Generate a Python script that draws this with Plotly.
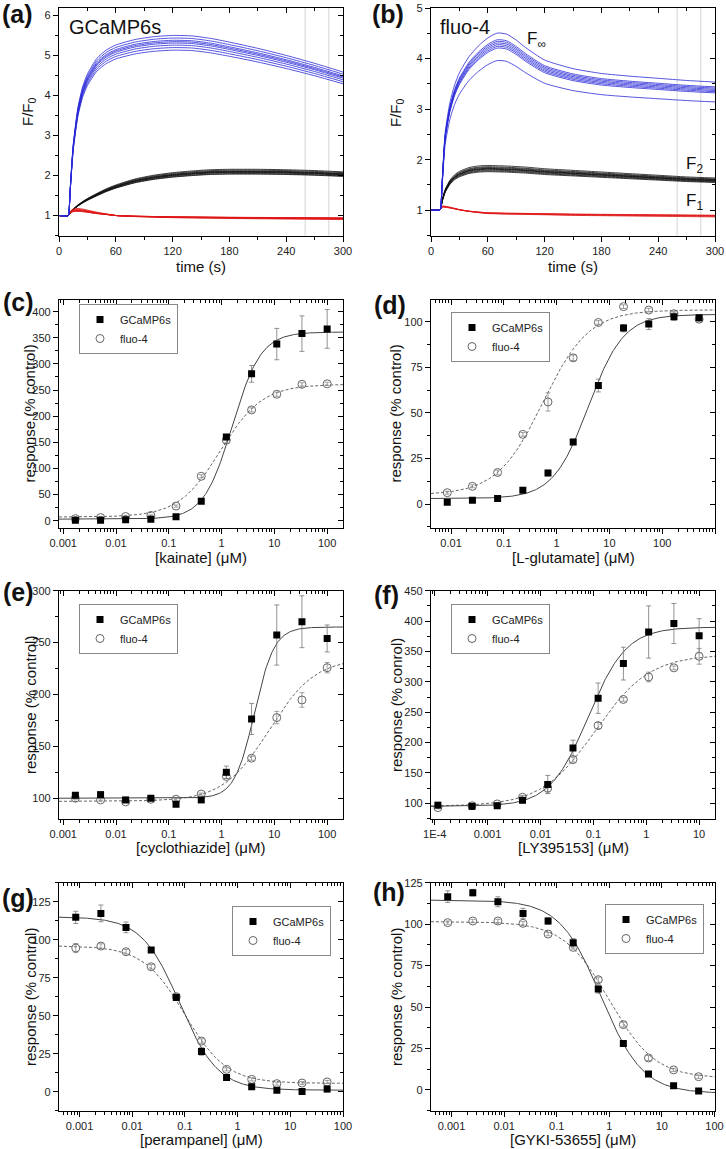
import numpy as np
import plotly.graph_objects as go

W, H = 726, 1149
FONT = "Liberation Sans, Arial, Helvetica, sans-serif"

# ---------------- (a) GCaMP6s time courses (F/F0) ----------------
time_a = [0, 5, 9, 10, 12, 15, 20, 25, 30, 40, 50, 60, 80, 100, 120, 140, 160, 180, 210, 240, 270, 300]
blue_a_profile = [1.00, 0.99, 0.98, 1.00, 1.70, 2.70, 3.60, 4.10, 4.40, 4.78, 4.98, 5.10, 5.23, 5.30, 5.33, 5.32, 5.26, 5.17, 5.02, 4.85, 4.66, 4.45]
blue_a_gain = [1.040, 1.025, 1.012, 1.004, 0.996, 0.984, 0.970, 0.955]
black_a_profile = [1.00, 0.99, 0.98, 1.00, 1.07, 1.15, 1.25, 1.33, 1.40, 1.52, 1.63, 1.72, 1.86, 1.95, 2.01, 2.05, 2.08, 2.09, 2.09, 2.08, 2.06, 2.03]
black_a_gain = [1.06, 1.04, 1.02, 1.01, 1.00, 0.99, 0.98, 0.96, 0.95]
red_a_profile = [1.00, 0.99, 0.98, 1.00, 1.08, 1.12, 1.13, 1.12, 1.10, 1.06, 1.03, 1.00, 0.98, 0.97, 0.96, 0.955, 0.95, 0.945, 0.94, 0.935, 0.93, 0.925]
red_a_gain = [1.35, 1.2, 1.1, 1.0, 0.95, 0.9, 0.85, 0.8]

# ---------------- (b) fluo-4 time courses (F/F0) ----------------
time_b = [0, 5, 9, 10, 12, 15, 20, 25, 30, 40, 50, 60, 70, 80, 90, 100, 120, 150, 180, 210, 240, 270, 300]
blue_b_profile = [1.00, 1.00, 1.00, 1.02, 1.60, 2.45, 3.00, 3.33, 3.55, 3.85, 4.05, 4.20, 4.29, 4.27, 4.16, 4.02, 3.79, 3.63, 3.54, 3.49, 3.45, 3.41, 3.38]
blue_b_gain = [1.065, 1.025, 1.015, 1.005, 0.995, 0.985, 0.975, 0.90]
black_b_profile = [1.00, 1.00, 1.00, 1.02, 1.20, 1.38, 1.55, 1.65, 1.71, 1.78, 1.81, 1.82, 1.815, 1.81, 1.80, 1.79, 1.76, 1.73, 1.70, 1.67, 1.64, 1.61, 1.59]
black_b_gain = [1.08, 1.05, 1.03, 1.01, 1.00, 0.99, 0.97, 0.95, 0.93]
red_b_profile = [1.00, 1.00, 1.00, 1.02, 1.07, 1.065, 1.05, 1.03, 1.01, 0.98, 0.96, 0.945, 0.94, 0.935, 0.933, 0.93, 0.925, 0.915, 0.91, 0.905, 0.90, 0.895, 0.89]
red_b_gain = [1.2, 1.1, 1.0, 0.95, 0.9]
marker_times = [260, 285]

# ---------------- (c) kainate ----------------
conc_kainate = [0.0017, 0.0051, 0.0152, 0.0457, 0.137, 0.412, 1.23, 3.70, 11.1, 33.3, 100]
kai_g = [1, 1, 2, 3, 7.6, 37, 160, 281, 338, 358, 367]
kai_g_err = [1, 1, 1, 1, 2, 3, 5, 16, 30, 34, 37]
kai_f = [4, 6, 8, 10, 28, 85, 154, 212, 242, 261, 262]
kai_f_err = [1, 1, 1, 1, 2, 3, 5, 4, 4, 3, 3]
kai_fit_g = [3, 361, 1.6, 1.6]      # bottom, top, EC50, Hill slope
kai_fit_f = [7, 261, 0.95, 1.1]

# ---------------- (d) L-glutamate ----------------
conc_glu = [0.00847, 0.0254, 0.0762, 0.229, 0.686, 2.06, 6.17, 18.5, 55.6, 167, 500]
glu_g = [1, 2, 3, 7.5, 17, 34, 65, 96.5, 98.7, 102.8, 102.2]
glu_g_err = [0.8, 0.8, 0.8, 1, 1.5, 1.5, 3.5, 2, 3, 2, 1.5]
glu_f = [6.2, 9.7, 17.3, 38.2, 56, 80.2, 99.6, 108.3, 106.4, 104.4, 101.4]
glu_f_err = [0.8, 0.8, 1.3, 1, 5, 1.5, 1, 1, 1, 1.3, 1.5]
glu_fit_g = [3, 104, 4.0, 1.3]
glu_fit_f = [5, 106.5, 0.55, 1.0]

# ---------------- (e) cyclothiazide ----------------
conc_ctz = [0.0017, 0.0051, 0.0152, 0.0457, 0.137, 0.412, 1.23, 3.70, 11.1, 33.3, 100]
ctz_g = [102.9, 103.5, 98.4, 100, 94.2, 98.4, 125, 176.4, 257.3, 270.1, 254]
ctz_g_err = [1.5, 1.5, 1.5, 1.5, 1.5, 2, 6, 15, 29, 25, 13]
ctz_f = [100, 98.4, 96.5, 99, 99, 104, 121, 138.6, 177.7, 194.7, 225.8]
ctz_f_err = [1, 1, 1, 1, 1, 1, 2, 2, 6, 7, 5]
ctz_fit_g = [100, 265, 4.2, 2.3]
ctz_fit_f = [97, 235, 8.0, 1.0]

# ---------------- (f) LY395153 ----------------
conc_ly = [0.000115, 0.000508, 0.00152, 0.00457, 0.0137, 0.0412, 0.123, 0.370, 1.11, 3.33, 10]
ly_g = [97, 95, 96, 105, 131, 191, 273, 330, 382, 396, 376]
ly_g_err = [3, 2, 2, 3, 15, 13, 25, 27, 43, 33, 28]
ly_f = [93, 96, 99, 110, 125, 172, 228, 271, 308, 323, 342]
ly_f_err = [2, 2, 2, 3, 8, 4, 5, 3, 8, 3, 13]
ly_fit_g = [95, 390, 0.08, 1.2]
ly_fit_f = [95, 345, 0.11, 0.85]

# ---------------- (g) perampanel ----------------
conc_per = [0.000847, 0.00254, 0.00762, 0.0229, 0.0686, 0.206, 0.617, 1.85, 5.56, 16.7, 50]
per_g = [114.7, 117.3, 108.1, 93.2, 62, 26.5, 9.4, 3.3, 0.9, 0.2, 1.8]
per_g_err = [4, 5.5, 3.5, 1.5, 2, 2.5, 1, 1, 1, 1, 2]
per_f = [94.5, 95.8, 92.1, 82.2, 62.5, 33.3, 14.7, 8.1, 5.3, 5.7, 6.4]
per_f_err = [3, 1.5, 1.5, 1.5, 2, 1.5, 1, 1, 1, 1, 1]
per_fit_g = [1, 115, 0.08, -1.2]
per_fit_f = [5.5, 96, 0.10, -1.1]

# ---------------- (h) GYKI-53655 ----------------
conc_gyki = [0.000847, 0.00254, 0.00762, 0.0229, 0.0686, 0.206, 0.617, 1.85, 5.56, 16.7, 50]
gyki_g = [116.6, 119, 113.5, 106.5, 101.9, 88.8, 60.9, 28.1, 9.6, 2.6, -0.6]
gyki_g_err = [3.5, 2, 3, 3, 2, 2.5, 2.5, 1, 1, 1, 1]
gyki_f = [100.9, 101.9, 101.9, 100.5, 94, 86, 66.5, 39.4, 19.3, 12.1, 8.0]
gyki_f_err = [1, 1, 1, 1, 1, 1, 1.5, 1.5, 1.5, 1, 1]
gyki_fit_g = [-2, 114.5, 0.7, -1.1]
gyki_fit_f = [7, 101.5, 1.0, -1.0]

series_names = ["GCaMP6s", "fluo-4"]

# ---------------- layout helpers ----------------
boxes = {1: (59, 343, 8, 235.5), 2: (431, 715, 8, 235.5),
         3: (59, 343, 299.5, 527.7), 4: (431, 715, 299.5, 527.7),
         5: (59, 343, 590.7, 819), 6: (431, 715, 590.7, 819),
         7: (59, 343, 882.7, 1110.7), 8: (431, 715, 882.7, 1110.7)}
xranges = {1: [0, 300], 2: [0, 300], 3: [-3.08, 2.3], 4: [-2.38, 3.0],
           5: [-3.08, 2.3], 6: [-4.07, 1.3], 7: [-3.39, 2.0], 8: [-3.39, 2.01]}
yranges = {1: [0.5, 6.19], 2: [0.5, 5.0], 3: [-13.4, 423.3], 4: [-13, 112.2],
           5: [80, 300], 6: [74.2, 450], 7: [-12.5, 137.5], 8: [-12.5, 125]}
ydticks = {1: (1, 0.5), 2: (1, 0.5), 3: (50, 25), 4: (25, 12.5), 5: (50, 25),
           6: (50, 25), 7: (25, 12.5), 8: (25, 12.5)}
xdecades = {3: [-3, 2], 4: [-2, 3], 5: [-3, 2], 6: [-4, 1], 7: [-3, 2], 8: [-3, 2]}
xticktext = {3: ["0.001", "0.01", "0.1", "1", "10", "100"],
             4: ["0.01", "0.1", "1", "10", "100", "1000"],
             5: ["0.001", "0.01", "0.1", "1", "10", "100"],
             6: ["1E-4", "0.001", "0.01", "0.1", "1", "10"],
             7: ["0.001", "0.01", "0.1", "1", "10", "100"],
             8: ["0.001", "0.01", "0.1", "1", "10", "100"]}


def xid(k):
    return "x" if k == 1 else f"x{k}"


def yid(k):
    return "y" if k == 1 else f"y{k}"


def xkey(k):
    return "xaxis" if k == 1 else f"xaxis{k}"


def ykey(k):
    return "yaxis" if k == 1 else f"yaxis{k}"


def hill(x, p):
    bottom, top, ec50, n = p
    x = np.asarray(x, dtype=float)
    return bottom + (top - bottom) / (1.0 + (ec50 / x) ** n)


fig = go.Figure()
layout = dict(template="none", width=W, height=H, autosize=False,
              margin=dict(l=0, r=0, t=0, b=0, pad=0),
              paper_bgcolor="white", plot_bgcolor="white",
              font=dict(family=FONT, size=11, color="#222"), showlegend=True)

tickfont = dict(family=FONT, size=11, color="#222")

for k, (l, r, t, b) in boxes.items():
    xdom = [l / W, r / W]
    ydom = [1 - b / H, 1 - t / H]
    base = dict(showgrid=False, zeroline=False, tickfont=tickfont, automargin=False)
    if k <= 2:
        xa = dict(type="linear", range=xranges[k], tick0=0, dtick=60,
                  minor=dict(dtick=30, ticklen=3, tickcolor="black", showgrid=False))
    else:
        d0, d1 = xdecades[k]
        vals = [10.0 ** e for e in range(d0, d1 + 1)]
        minors = [m * 10.0 ** e for e in range(d0 - 1, d1 + 1) for m in range(2, 10)]
        xa = dict(type="log", range=xranges[k], tickmode="array", tickvals=vals,
                  ticktext=xticktext[k],
                  minor=dict(tickmode="array", tickvals=minors, ticklen=3,
                             tickcolor="black", showgrid=False))
    dt, mdt = ydticks[k]
    ya = dict(type="linear", range=yranges[k], tick0=0, dtick=dt,
              minor=dict(dtick=mdt, ticklen=3, tickcolor="black", showgrid=False))
    px_ = dict(base, **xa)
    px_.update(domain=xdom, anchor=yid(k), showline=True, linecolor="black", linewidth=1.2,
               mirror=True, ticks="outside", ticklen=5, tickwidth=1, tickcolor="black")
    px_["minor"] = dict(px_["minor"], ticks="outside")
    py_ = dict(base, **ya)
    py_.update(domain=ydom, anchor=xid(k), showline=True, linecolor="black", linewidth=1.2,
               mirror=True, ticks="outside", ticklen=5, tickwidth=1, tickcolor="black")
    py_["minor"] = dict(py_["minor"], ticks="outside")
    layout[xkey(k)] = px_
    layout[ykey(k)] = py_
    ko = k + 8
    ox = dict(base, **xa)
    ox.update(overlaying=xid(k), anchor=yid(ko), side="top", showline=False,
              showticklabels=False, ticks="inside", ticklen=5, tickwidth=1, tickcolor="black")
    ox["minor"] = dict(ox["minor"], ticks="inside")
    oy = dict(base, **ya)
    oy.update(overlaying=yid(k), anchor=xid(ko), side="right", showline=False,
              showticklabels=False, ticks="inside", ticklen=5, tickwidth=1, tickcolor="black")
    oy["minor"] = dict(oy["minor"], ticks="inside")
    layout[xkey(ko)] = ox
    layout[ykey(ko)] = oy
    fig.add_trace(go.Scatter(x=[None], y=[None], xaxis=xid(ko), yaxis=yid(ko),
                             showlegend=False, hoverinfo="skip"))

# ---------------- time-course bundles ----------------
def add_bundle(k, t, profile, gains, color):
    for g in gains:
        y = [1 + g * (v - 1) for v in profile]
        fig.add_trace(go.Scatter(x=t, y=y, mode="lines", xaxis=xid(k), yaxis=yid(k),
                                 line=dict(color=color, width=0.8, shape="spline", smoothing=0.6),
                                 showlegend=False, hoverinfo="skip"))


BLUE, BLACK, RED = "#2a2ad8", "#111111", "#e01818"
add_bundle(1, time_a, black_a_profile, black_a_gain, BLACK)
add_bundle(1, time_a, red_a_profile, red_a_gain, RED)
add_bundle(1, time_a, blue_a_profile, blue_a_gain, BLUE)
add_bundle(2, time_b, black_b_profile, black_b_gain, BLACK)
add_bundle(2, time_b, red_b_profile, red_b_gain, RED)
add_bundle(2, time_b, blue_b_profile, blue_b_gain, BLUE)

shapes = []
for k in (1, 2):
    for tm in marker_times:
        shapes.append(dict(type="line", xref=xid(k), yref=f"{yid(k)} domain", x0=tm, x1=tm,
                           y0=0, y1=1, line=dict(color="#d4d4d4", width=1), layer="below"))
layout["shapes"] = shapes

# ---------------- dose-response panels ----------------
dose_panels = [
    (3, conc_kainate, kai_g, kai_g_err, kai_f, kai_f_err, kai_fit_g, kai_fit_f, "legend"),
    (4, conc_glu, glu_g, glu_g_err, glu_f, glu_f_err, glu_fit_g, glu_fit_f, "legend2"),
    (5, conc_ctz, ctz_g, ctz_g_err, ctz_f, ctz_f_err, ctz_fit_g, ctz_fit_f, "legend3"),
    (6, conc_ly, ly_g, ly_g_err, ly_f, ly_f_err, ly_fit_g, ly_fit_f, "legend4"),
    (7, conc_per, per_g, per_g_err, per_f, per_f_err, per_fit_g, per_fit_f, "legend5"),
    (8, conc_gyki, gyki_g, gyki_g_err, gyki_f, gyki_f_err, gyki_fit_g, gyki_fit_f, "legend6"),
]

for k, conc, yg, eg, yf, ef, pg, pf, leg in dose_panels:
    xs = np.logspace(xranges[k][0], xranges[k][1], 300)
    fig.add_trace(go.Scatter(x=xs, y=hill(xs, pf), mode="lines", xaxis=xid(k), yaxis=yid(k),
                             line=dict(color="#666666", width=1, dash="3px,2px"),
                             showlegend=False, hoverinfo="skip"))
    fig.add_trace(go.Scatter(x=xs, y=hill(xs, pg), mode="lines", xaxis=xid(k), yaxis=yid(k),
                             line=dict(color="#444444", width=1),
                             showlegend=False, hoverinfo="skip"))
    fig.add_trace(go.Scatter(x=conc, y=yf, mode="markers", name=series_names[1],
                             xaxis=xid(k), yaxis=yid(k), legend=leg,
                             marker=dict(symbol="circle-open", size=8, color="#666666",
                                         line=dict(width=1, color="#666666")),
                             error_y=dict(type="data", array=ef, visible=True, color="#888888",
                                          thickness=0.8, width=2.5)))
    fig.add_trace(go.Scatter(x=conc, y=yg, mode="markers", name=series_names[0],
                             xaxis=xid(k), yaxis=yid(k), legend=leg,
                             marker=dict(symbol="square", size=7, color="#000000"),
                             error_y=dict(type="data", array=eg, visible=True, color="#777777",
                                          thickness=0.8, width=2.5)))

legend_pos = {"legend": (79, 304), "legend2": (451, 312), "legend3": (79, 604),
              "legend4": (451, 604), "legend5": (232, 906), "legend6": (605, 904)}
for name, (lx, ty) in legend_pos.items():
    layout[name] = dict(x=lx / W, y=1 - ty / H, xanchor="left", yanchor="top",
                        xref="paper", yref="paper",
                        bgcolor="white", bordercolor="#888888", borderwidth=1,
                        font=dict(family=FONT, size=11, color="#222"),
                        tracegroupgap=0, itemwidth=30, traceorder="reversed")

# ---------------- annotations ----------------
ann = []


def text(x, y, s, size, xanchor="center", yanchor="middle", angle=0):
    ann.append(dict(x=x / W, y=1 - y / H, xref="paper", yref="paper", text=s,
                    showarrow=False, xanchor=xanchor, yanchor=yanchor, textangle=angle,
                    font=dict(family=FONT, size=size, color="#111")))


panel_labels = {"(a)": (17, 14), "(b)": (388, 14), "(c)": (18, 302), "(d)": (390, 305),
                "(e)": (18, 592), "(f)": (386, 595), "(g)": (18, 898), "(h)": (389, 892)}
for s, (x, y) in panel_labels.items():
    text(x, y, f"<b>{s}</b>", 25)

xtitles = [(201, 267, "time (s)"), (573, 267, "time (s)"),
           (201, 557, "[kainate] (μM)"), (573, 557, "[L-glutamate] (μM)"),
           (201, 848, "[cyclothiazide] (μM)"), (573, 848, "[LY395153] (μM)"),
           (201, 1139, "[perampanel] (μM)"), (573, 1139, "[GYKI-53655] (μM)")]
for x, y, s in xtitles:
    text(x, y, s, 15)

ytitles = [(28, 112, "F/F<sub>0</sub>"), (396, 112, "F/F<sub>0</sub>"),
           (30, 413.6, "response (% control)"), (396, 413.6, "response (% control)"),
           (30, 705, "response (% control)"), (396, 705, "response (% conrol)"),
           (30, 997, "response (% control)"), (396, 997, "response (% control)")]
for x, y, s in ytitles:
    text(x, y, s, 15, angle=-90)

text(67, 27, "GCaMP6s", 20, xanchor="left")
text(438, 27, "fluo-4", 20, xanchor="left")
text(525, 40, "F<sub>∞</sub>", 17, xanchor="left")
text(684, 165, "F<sub>2</sub>", 17, xanchor="left")
text(684, 202, "F<sub>1</sub>", 17, xanchor="left")

layout["annotations"] = ann
fig.update_layout(**layout)
fig.write_html("out.html", config={"displayModeBar": False},
               post_script="document.body.style.margin='0';document.body.style.overflow='hidden';")
